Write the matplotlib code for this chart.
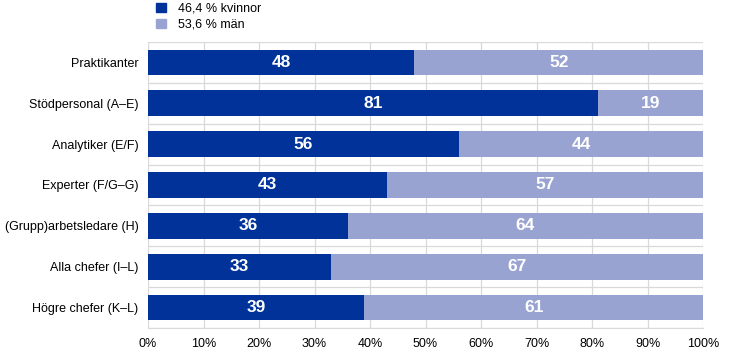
import numpy as np
import matplotlib.pyplot as plt
from matplotlib.ticker import FixedLocator, PercentFormatter
from matplotlib.patches import Patch

plt.rcParams['font.family'] = ['Liberation Sans Narrow', 'Liberation Sans', 'DejaVu Sans']

categories = ["Praktikanter", "Stödpersonal (A\u2013E)", "Analytiker (E/F)",
              "Experter (F/G\u2013G)", "(Grupp)arbetsledare (H)",
              "Alla chefer (I\u2013L)", "Högre chefer (K\u2013L)"]
women = [48, 81, 56, 43, 36, 33, 39]
men = [52, 19, 44, 57, 64, 67, 61]
legend_labels = ["46,4 % kvinnor", "53,6 % män"]

dark = '#003299'
light = '#99a3d1'
grid_col = '#d9d9d9'

fig = plt.figure(figsize=(7.44, 3.57), dpi=100)
ax = fig.add_axes([148/744, 1-328/357, 555/744, 286/357])

y = np.arange(len(categories))
ax.barh(y, women, height=0.63, color=dark, zorder=3)
ax.barh(y, men, left=women, height=0.63, color=light, zorder=3)

for i in range(len(categories)):
    ax.text(women[i]/2, y[i], str(women[i]), ha='center', va='center',
            color='white', fontsize=12.5, fontweight='bold', zorder=4)
    ax.text(women[i] + men[i]/2, y[i], str(men[i]), ha='center', va='center',
            color='white', fontsize=12.5, fontweight='bold', zorder=4)

ax.set_xlim(0, 100)
ax.set_ylim(len(categories)-0.5, -0.5)
ax.set_xticks(np.arange(0, 101, 10))
ax.xaxis.set_major_formatter(PercentFormatter(decimals=0))
ax.set_yticks(y)
ax.set_yticklabels(categories)
ax.yaxis.set_minor_locator(FixedLocator(np.arange(-0.5, len(categories), 1)))
ax.tick_params(axis='both', length=0, labelsize=9, colors='black')
ax.tick_params(axis='x', pad=7)
ax.tick_params(axis='y', pad=7)
ax.tick_params(axis='y', which='minor', length=0)

ax.grid(axis='x', which='major', color=grid_col, linewidth=0.9, zorder=0)
ax.grid(axis='y', which='minor', color=grid_col, linewidth=0.9, zorder=0)
for s in ['top', 'right', 'left']:
    ax.spines[s].set_visible(False)
ax.spines['bottom'].set_color(grid_col)

handles = [Patch(color=dark), Patch(color=light)]
fig.legend(handles, legend_labels, loc='upper left', bbox_to_anchor=(150/744, 1.01),
           frameon=False, fontsize=9, handlelength=0.8, handleheight=0.8,
           handletextpad=0.9, labelspacing=0.3, borderaxespad=0.1)

fig.savefig('out.png', dpi=100)
